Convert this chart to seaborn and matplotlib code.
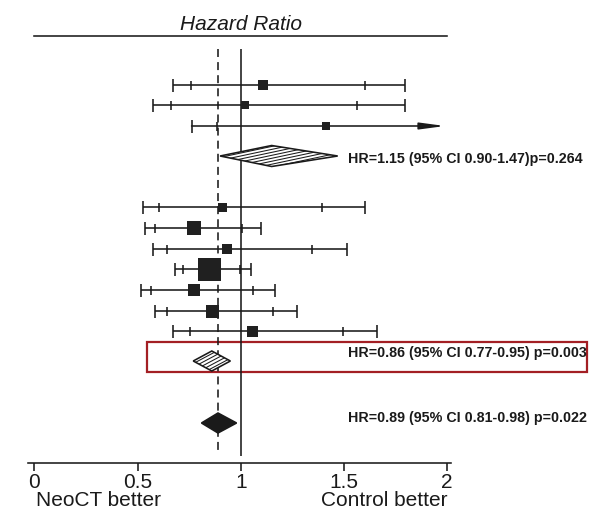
import numpy as np
import matplotlib
matplotlib.use('Agg')
import matplotlib.pyplot as plt
from matplotlib.patches import Polygon, Rectangle
import seaborn as sns

sns.set_theme(style='white')
plt.rcParams['font.family'] = ['Liberation Sans', 'DejaVu Sans']

# 各研究：HR，内刻度 = 95% CI，外端 = 99% CI（第3行上限超出坐标范围，画箭头）
hr = [1.108, 1.021, 1.413, 0.913, 0.772, 0.932, 0.851, 0.772, 0.861, 1.058]
lo99 = [0.674, 0.574, 0.762, 0.525, 0.536, 0.573, 0.683, 0.515, 0.585, 0.674]
lo95 = [0.761, 0.662, 0.884, 0.604, 0.585, 0.643, 0.722, 0.564, 0.643, 0.753]
hi95 = [1.602, 1.562, 2.50, 1.394, 1.008, 1.344, 0.995, 1.058, 1.157, 1.494]
hi99 = [1.798, 1.798, 3.10, 1.602, 1.098, 1.513, 1.048, 1.166, 1.274, 1.659]
box_side = [10, 8, 7.5, 9, 14, 10, 23, 12, 13, 11]   # 方块边长(px)，对应权重

# 合并结果
pooled_hr = [1.15, 0.86, 0.89]
pooled_lo = [0.90, 0.77, 0.81]
pooled_hi = [1.47, 0.95, 0.98]
pooled_text = ['HR=1.15 (95% CI 0.90-1.47)p=0.264',
               'HR=0.86 (95% CI 0.77-0.95) p=0.003',
               'HR=0.89 (95% CI 0.81-0.98) p=0.022']
xticks = [0, 0.5, 1, 1.5, 2]
xticklabels = ['0', '0.5', '1', '1.5', '2']

# 版面位置（纵轴按像素从上往下）
row_y = [85, 105, 126, 207, 228, 249, 269, 290, 311, 331]
pooled_y = [156, 361, 423]
text_y = [159, 353, 418]

ink = '#1a1a1a'
lw = 1.15
fig = plt.figure(figsize=(5.93, 5.15), dpi=100)
ax = fig.add_axes([34.3 / 593, 52 / 515, 412.8 / 593, 427 / 515])
ax.set_xlim(0, 2)
ax.set_ylim(463, 36)

# 参考线
ax.vlines(1, 49, 456, color=ink, lw=lw)
ref = ax.vlines(pooled_hr[2], 49, 455, color=ink, lw=lw)
ref.set_linestyle((0, (5.0, 3.2)))

# 误差线
xmax = 2.0
for i, y in enumerate(row_y):
    if hi99[i] > xmax:
        ax.annotate('', xy=(1.99, y), xytext=(lo99[i], y),
                    arrowprops=dict(arrowstyle='-|>,head_length=1.5,head_width=0.2',
                                    color=ink, lw=lw, shrinkA=0, shrinkB=0,
                                    mutation_scale=10))
    else:
        ax.hlines(y, lo99[i], hi99[i], color=ink, lw=lw)
    ends = [v for v in (lo99[i], hi99[i]) if v <= xmax]
    inner = [v for v in (lo95[i], hi95[i]) if v <= xmax]
    ax.vlines(ends, y - 6.5, y + 6.5, color=ink, lw=lw)
    ax.vlines(inner, y - 4.5, y + 4.5, color=ink, lw=lw)

sns.scatterplot(x=hr, y=row_y, marker='s', s=[(b * 0.72) ** 2 for b in box_side],
                color='#202020', linewidth=0, ax=ax, zorder=3)


def hatch(poly, angle, spacing):
    v = ax.transData.transform(poly.get_xy())
    x0, y0 = v.min(0)
    x1, y1 = v.max(0)
    t = np.tan(np.radians(angle))
    step = spacing / np.cos(np.radians(angle))
    for c in np.arange(y0 - t * (x1 - x0) + step / 2, y1, step):
        p = ax.transData.inverted().transform([[x0, c], [x1, c + t * (x1 - x0)]])
        ln, = ax.plot(p[:, 0], p[:, 1], color=ink, lw=0.75, zorder=5)
        ln.set_clip_path(poly)


# 合并菱形
heights = [21, 20, 20]
for k in range(3):
    yc, h = pooled_y[k], heights[k]
    pts = [(pooled_lo[k], yc), (pooled_hr[k], yc - h / 2),
           (pooled_hi[k], yc), (pooled_hr[k], yc + h / 2)]
    filled = k == 2
    poly = Polygon(pts, closed=True, facecolor=ink if filled else 'white',
                   edgecolor=ink, lw=lw, zorder=4)
    ax.add_patch(poly)
    if not filled:
        hatch(poly, 12 if k == 0 else 28, 2.9 if k == 0 else 3.2)
    ax.text(1.52, text_y[k], pooled_text[k], ha='left', va='center',
            fontsize=10.3, fontweight='bold', color=ink, clip_on=False)

# 红框
ax.add_patch(Rectangle((0.545, 342), 2.678 - 0.545, 30, fill=False,
                       edgecolor='#a31f24', lw=1.6, clip_on=False))

# 坐标轴
for s in ['left', 'right']:
    ax.spines[s].set_visible(False)
for s in ['top', 'bottom']:
    ax.spines[s].set_color(ink)
    ax.spines[s].set_linewidth(lw)
ax.spines['bottom'].set_bounds(-0.03, 2.02)
ax.set_xticks(xticks, xticklabels)
ax.set_yticks([])
ax.tick_params(axis='x', bottom=True, direction='out', length=6, width=lw,
               color=ink, labelsize=15, labelcolor=ink, pad=1.5)
ax.set_xlabel('')
ax.set_ylabel('')
ax.set_title('Hazard Ratio', fontstyle='italic', fontsize=15, color=ink, pad=4)
ax.text(0.01, 500, 'NeoCT better', ha='left', va='center', fontsize=15,
        color=ink, clip_on=False)
ax.text(2.0, 500, 'Control better', ha='right', va='center', fontsize=15,
        color=ink, clip_on=False)

fig.savefig('out.png', dpi=100)
